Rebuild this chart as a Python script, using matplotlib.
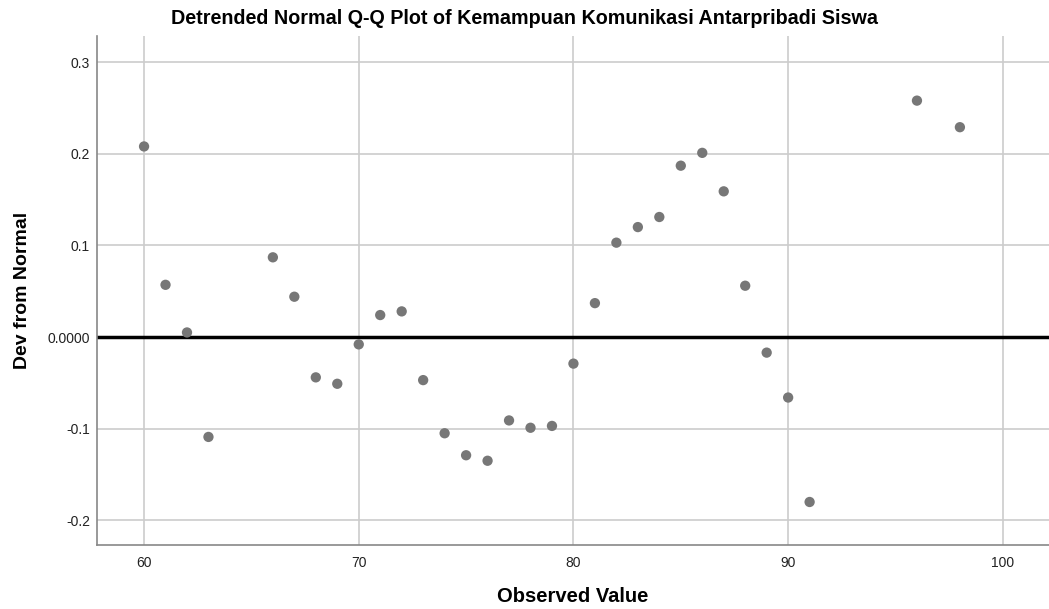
import matplotlib
matplotlib.use("Agg")
import matplotlib.pyplot as plt
from matplotlib.ticker import FixedLocator, FixedFormatter

plt.rcParams['font.family'] = ['Liberation Sans', 'DejaVu Sans']

observed = [60, 61, 62, 63, 66, 67, 68, 69, 70, 71, 72, 73, 74, 75, 76, 77, 78, 79,
            80, 81, 82, 83, 84, 85, 86, 87, 88, 89, 90, 91, 96, 98]
deviation = [0.208, 0.057, 0.005, -0.109, 0.087, 0.044, -0.044, -0.051, -0.008, 0.024,
             0.028, -0.047, -0.105, -0.129, -0.135, -0.091, -0.099, -0.097, -0.029,
             0.037, 0.103, 0.120, 0.131, 0.187, 0.201, 0.159, 0.056, -0.017, -0.066,
             -0.180, 0.258, 0.229]

x_ticks = [60, 70, 80, 90, 100]
y_ticks = [-0.2, -0.1, 0.0, 0.1, 0.2, 0.3]
y_labels = ['-0.2', '-0.1', '0.0000', '0.1', '0.2', '0.3']

fig = plt.figure(figsize=(10.49, 6.09), dpi=100)
ax = fig.add_axes([0.0925, 0.105, 0.9075, 0.836])

ax.grid(True, color='#cccccc', linewidth=1.2, zorder=0)
ax.axhline(0, color='black', linewidth=2.5, zorder=2)
ax.scatter(observed, deviation, s=55, color='#777777', edgecolors='none', zorder=3)

ax.set_xlim(57.81, 102.15)
ax.set_ylim(-0.227, 0.3286)
ax.xaxis.set_major_locator(FixedLocator(x_ticks))
ax.yaxis.set_major_locator(FixedLocator(y_ticks))
ax.yaxis.set_major_formatter(FixedFormatter(y_labels))
ax.tick_params(length=0, labelsize=10, colors='#222222')
ax.tick_params(axis='x', pad=8)
ax.tick_params(axis='y', pad=5)

for side in ['top', 'right']:
    ax.spines[side].set_visible(False)
for side in ['left', 'bottom']:
    ax.spines[side].set_color('#888888')
    ax.spines[side].set_linewidth(1.2)

ax.set_xlabel('Observed Value', fontsize=14.5, fontweight='bold', labelpad=12)
ax.set_ylabel('Dev from Normal', fontsize=14, fontweight='bold', labelpad=12)
# title is centred on the whole figure, not on the axes
fig.text(0.5, 1 - 19 / 609, 'Detrended Normal Q-Q Plot of Kemampuan Komunikasi Antarpribadi Siswa',
         fontsize=14.2, fontweight='bold', ha='center', va='center')

fig.savefig('out.png', dpi=100)
